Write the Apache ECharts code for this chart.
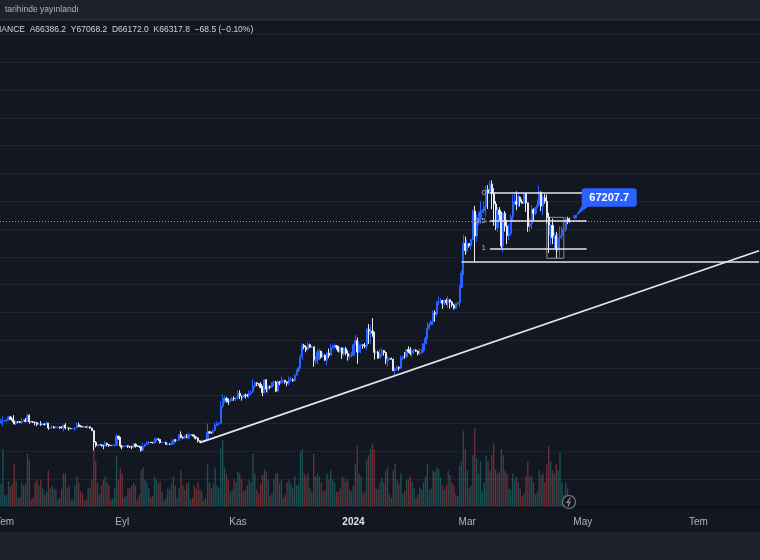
<!DOCTYPE html>
<html>
<head>
<meta charset="utf-8">
<script src="https://cdn.jsdelivr.net/npm/echarts@6/dist/echarts.min.js"></script>
<style>
  html, body { margin: 0; padding: 0; background: #131722; }
  #chart { width: 760px; height: 560px; }
</style>
</head>
<body>
<div id="chart"></div>
<script>
// daily BTCUSDT candles, 2023-06-29 .. 2024-04-24
const startDay = Date.UTC(2023, 5, 29)
const dayCount = 401 // axis runs on to early Aug 2024
const firstOpen = 30077
const lastOpen = 66386.2

const closes = [
  30446, 30472,
  // jul
  30586, 30617, 31156, 30767, 30505, 29895, 30347, 30292, 30171, 30414, 30620, 30380, 31454, 30312, 30289, 30231,
  30138, 29859, 29910, 29800, 29901, 29794, 30083, 29176, 29228, 29353, 29212, 29314, 29352, 29275, 29230,
  // aug
  29705, 29186, 29193, 29113, 29072, 29088, 29215, 29767, 29560, 29430, 29402, 29425, 29283, 29409, 29170, 28701,
  26622, 26049, 26096, 26189, 26124, 26040, 26431, 26163, 26048, 26008, 26089, 26107, 27728, 27300, 25940,
  // sep
  25805, 25869, 25972, 25826, 25792, 25759, 26255, 25910, 25901, 25841, 25162, 25840, 26222, 26522, 26600,
  26568, 26527, 26762, 27210, 27132, 26567, 26580, 26580, 26250, 26300, 26218, 26352, 27021, 26911, 26967,
  // oct
  27983, 27505, 27429, 27794, 27410, 27931, 27956, 27917, 27590, 27392, 26875, 26756, 26863, 26853, 27154, 28500,
  28395, 28320, 28713, 29670, 29909, 29992, 33087, 33900, 34500, 34150, 33892, 34081, 34525, 34475, 34640,
  // nov
  35421, 34941, 34720, 35080, 35048, 35046, 35400, 35624, 36702, 37314, 37130, 37064, 36462, 35551, 37858,
  36164, 36625, 36585, 37386, 37476, 35813, 37432, 37289, 37720, 37796, 37479, 37254, 37832, 37858, 37712,
  // dec
  38688, 39476, 39978, 41992, 44080, 43746, 43293, 44170, 43713, 43789, 41244, 41450, 42890, 43023, 41941, 42278,
  41374, 42657, 42272, 43668, 43861, 43997, 43740, 43016, 43613, 42520, 43442, 42627, 42099, 42156, 42283,
  // jan
  44180, 44946, 42845, 44151, 44162, 43974, 43929, 46951, 46110, 46632, 46314, 42782, 42847, 41732, 42511, 43137,
  42776, 41262, 41618, 41665, 41545, 39507, 39845, 40077, 39934, 41816, 42120, 42031, 43300, 42941, 42580,
  // feb
  43082, 43200, 43011, 42582, 42708, 43098, 44350, 45288, 47132, 47750, 48300, 49917, 49699, 51795, 51880,
  52125, 51662, 52123, 51780, 52259, 51839, 51304, 50731, 51571, 51733, 54476, 57037, 62432, 61130,
  // mar
  62387, 61988, 63113, 68245, 63724, 66074, 66823, 68124, 68313, 68955, 72078, 71452, 73072, 71388, 69499, 65300,
  68393, 67609, 61937, 67840, 65501, 63797, 64209, 67211, 69880, 69988, 69456, 70745, 69892, 69645, 71333,
  // apr
  69702, 65463, 65964, 68487, 67820, 68896, 69360, 71620, 69146, 70630, 70006, 67116, 63924, 65661, 63419,
  63793, 61277, 63470, 63818, 64940, 64941, 66837, 66407, 66317.8
]

const highs = [
  30841, 31282,
  30650, 30800, 31380, 31330, 30880, 31500, 30449, 30385, 30450, 31045, 30800, 30970, 31814, 31630, 30390, 30440,
  30336, 30233, 30200, 30417, 30050, 29998, 30350, 30100, 29375, 29690, 29570, 29530, 29415, 29450, 29530,
  29743, 30047, 29420, 29316, 29122, 29170, 29250, 30245, 30140, 29700, 29540, 29475, 29450, 29680, 29440, 29230,
  28775, 26833, 26260, 26288, 26260, 26139, 26800, 26550, 26300, 26100, 26200, 26230, 28142, 27760, 27575,
  26125, 25985, 26125, 26100, 25880, 26000, 26444, 26430, 25945, 26000, 25880, 26540, 26400, 26860, 26850,
  26670, 26620, 27410, 27490, 27380, 27150, 26735, 26640, 26717, 26440, 26400, 26827, 27300, 27225, 27090,
  28065, 28580, 27670, 27835, 28120, 28290, 28000, 28100, 27990, 27740, 27480, 26950, 27100, 26950, 27290, 30000,
  28600, 28500, 28900, 30200, 30350, 30230, 34000, 35198, 35000, 34800, 34500, 34480, 34770, 34850, 34720,
  35984, 35970, 35000, 35250, 35383, 35290, 35890, 35980, 37972, 37520, 37400, 37230, 37420, 36770, 37980,
  37930, 36840, 36845, 37500, 37750, 37650, 37880, 37650, 38420, 37890, 37820, 37600, 38400, 38400, 38150,
  38990, 39700, 40250, 42420, 44490, 44300, 44050, 44700, 44360, 44040, 43800, 42100, 43430, 43420, 43090, 42750,
  42420, 42760, 43490, 44280, 44230, 44390, 44030, 43950, 43800, 43650, 43680, 43790, 43150, 42600, 42900,
  44190, 45900, 45500, 44770, 44340, 44250, 44500, 47250, 47890, 47700, 48970, 46500, 43260, 43080, 43400, 43580,
  43200, 42930, 42200, 41870, 41860, 41680, 40130, 40500, 40290, 42200, 42200, 42840, 43300, 43880, 43740,
  43290, 43490, 43380, 43120, 43500, 43400, 44390, 45600, 48200, 48170, 48580, 50330, 50370, 52080, 52820,
  52570, 52200, 52350, 52480, 52950, 52370, 52040, 51550, 51700, 51950, 54900, 57588, 63933, 63650,
  63150, 62430, 63230, 68500, 69170, 67640, 67980, 69990, 68590, 69950, 72800, 72900, 73650, 73777, 72370, 70000,
  68900, 68950, 68100, 68030, 68240, 66650, 65970, 67620, 71150, 71560, 71770, 71550, 70900, 70350, 71370,
  71400, 69750, 66900, 69290, 68720, 69000, 70300, 72797, 71760, 71160, 71256, 71230, 67930, 65840, 66870,
  64360, 64500, 64125, 65450, 65450, 65700, 67230, 67200, 67068.2
]

const lows = [
  30063, 29500,
  30323, 30200, 30561, 30630, 30200, 29850, 29700, 30036, 30050, 29950, 30272, 30200, 30255, 29940, 30250, 30075,
  29658, 29500, 29755, 29570, 29715, 29640, 29730, 28861, 29056, 29080, 29100, 29123, 29260, 29030, 29100,
  28585, 28950, 29100, 28750, 28960, 28985, 28700, 29135, 29360, 29320, 29340, 29375, 29250, 29100, 29050, 28700,
  25166, 25700, 25800, 25960, 25811, 25350, 25800, 25850, 25777, 25960, 25970, 25860, 25922, 27030, 25655,
  25333, 25725, 25800, 25600, 25570, 25377, 25600, 25650, 25800, 25550, 24901, 25130, 25750, 26125, 26220,
  26470, 26400, 26380, 26670, 26850, 26380, 26480, 26500, 26130, 26010, 26100, 26080, 26340, 26680, 26880,
  26950, 27320, 27160, 27220, 27350, 27170, 27840, 27700, 27260, 27100, 26550, 26530, 26690, 26810, 26800, 27110,
  28100, 28150, 28170, 28600, 29480, 29690, 29860, 32850, 33700, 33750, 33340, 33860, 34050, 34050, 34080,
  34320, 34400, 34100, 34580, 34530, 34740, 34525, 35110, 35550, 36340, 36700, 36760, 36340, 34900, 35360,
  35600, 35510, 36180, 36400, 36700, 35630, 35750, 36870, 37250, 37600, 37150, 36710, 36880, 37600, 37500,
  37620, 38650, 39250, 39930, 41420, 43335, 42820, 43080, 43590, 43580, 40220, 40680, 40670, 41420, 41660, 41900,
  41250, 40530, 41800, 42200, 43330, 43400, 43300, 42800, 42750, 41620, 42100, 42300, 41300, 41520, 41965,
  42180, 44150, 40750, 42630, 42630, 43400, 43570, 43200, 44300, 44350, 45600, 41500, 42440, 41720, 41720, 42050,
  42190, 40680, 40280, 41430, 41500, 39430, 38555, 39480, 39500, 39820, 41390, 41620, 41800, 42680, 42280,
  41880, 42580, 42890, 42250, 42260, 42570, 42780, 44330, 45240, 46800, 47700, 47720, 48300, 49260, 51300,
  51620, 50630, 51175, 51330, 50760, 50650, 50920, 50520, 50580, 51280, 50900, 54450, 56700, 60360,
  60800, 61660, 61300, 62900, 59005, 62700, 65600, 66000, 67950, 67830, 67200, 68600, 71340, 68560, 65600, 64780,
  64500, 66560, 61560, 60770, 64530, 62260, 63000, 63790, 66380, 69280, 68370, 68900, 69050, 69580, 69570,
  68100, 64500, 64500, 65060, 66500, 67460, 68790, 69040, 68210, 67500, 69560, 66000, 60660, 62130, 62270,
  61600, 59768, 60834, 59600, 63090, 64230, 64500, 65860, 66172.0
]

// volume, thousand BTC
const volumes = [
  38, 95,
  20, 19, 42, 33, 38, 70, 42, 14, 15, 40, 35, 38, 88, 78, 12, 15, 40, 45, 35, 45, 30, 20, 25, 60, 30, 35, 30, 28, 12, 15, 30,
  55, 55, 30, 35, 12, 12, 35, 50, 40, 25, 22, 10, 12, 30, 32, 45, 98, 75, 40, 20, 35, 45, 50, 40, 35, 12, 13, 30, 85, 45, 65,
  55, 15, 18, 30, 30, 35, 40, 35, 12, 20, 60, 65, 45, 40, 30, 15, 18, 50, 45, 38, 42, 25, 10, 15, 30, 28, 38, 50, 35, 15,
  30, 60, 35, 28, 38, 40, 12, 15, 35, 30, 40, 28, 25, 10, 15, 70, 40, 30, 38, 65, 35, 30, 98, 110, 65, 55, 45, 25, 28, 45, 40,
  58, 55, 45, 25, 28, 35, 45, 40, 88, 55, 28, 22, 38, 52, 62, 58, 45, 18, 22, 45, 55, 55, 38, 45, 15, 20, 40, 45, 38, 30,
  50, 35, 38, 90, 95, 55, 50, 55, 30, 25, 88, 50, 55, 50, 40, 25, 28, 55, 45, 60, 45, 40, 25, 25, 30, 50, 48, 42, 45, 28, 25,
  35, 70, 100, 55, 50, 22, 25, 78, 85, 95, 105, 95, 30, 28, 40, 48, 40, 60, 65, 20, 15, 60, 72, 45, 38, 55, 22, 25, 45, 45, 50,
  42, 30, 15, 20, 32, 28, 40, 50, 70, 28, 30, 60, 58, 65, 62, 48, 35, 28, 35, 60, 52, 40, 35, 20, 18, 68, 75, 125, 95,
  60, 30, 35, 85, 130, 80, 55, 75, 25, 40, 85, 75, 60, 85, 105, 62, 55, 58, 95, 85, 60, 55, 30, 28, 55, 45, 50, 40, 30, 18, 22,
  50, 75, 50, 50, 40, 20, 25, 60, 52, 55, 40, 70, 100, 75, 60, 55, 70, 60, 90, 40, 20, 40, 30, 18
]

const monthLabels = { '03': 'Mar', '05': 'May', '07': 'Tem', '09': 'Eyl', '11': 'Kas' }

// drawings on the chart: [date, price]
const trendLine = [['2023-10-12', 26550], ['2024-08-02', 61100]]
const supportLine = [['2024-02-27', 59150], ['2024-08-02', 59150]]
const fibStart = '2024-03-13'
const fibEnd = '2024-05-03'
const fibLevels = [['0', 71530], ['0.5', 66530], ['1', 61530]]
const rangeBox = [['2024-04-12', 67100], ['2024-04-21', 59730]]
const callout = ['2024-04-27', 67207.7]

const dates = []
for (let i = 0; i < dayCount; i++) {
  dates.push(new Date(startDay + i * 86400000).toISOString().slice(0, 10))
}

const opens = closes.map((c, i) => (i === 0 ? firstOpen : closes[i - 1]))
opens[opens.length - 1] = lastOpen
const candles = closes.map((c, i) => [opens[i], c, lows[i], highs[i]])
const lastIdx = closes.length - 1

const volBars = volumes.map((v, i) => ({
  value: v,
  itemStyle: { color: closes[i] >= opens[i] ? 'rgba(38,166,154,0.42)' : 'rgba(239,83,80,0.42)' },
}))

const headerText = 'IANCE  A' + opens[lastIdx].toFixed(1) + '  Y' + highs[lastIdx].toFixed(1) +
  '  D' + lows[lastIdx].toFixed(1) + '  K' + closes[lastIdx].toFixed(1) + '  \u221268.5 (\u22120.10%)'

const fibLines = fibLevels.map(([name, p]) => [
  { coord: [fibStart, p], label: { show: true, formatter: name } },
  { coord: [fibEnd, p] },
])

const chart = echarts.init(document.getElementById('chart'))

chart.setOption({
  backgroundColor: '#131722',
  animation: false,
  textStyle: { fontFamily: 'Liberation Sans, Arial, sans-serif' },
  grid: [
    { left: 0, right: 0, top: 20, bottom: 53.2, outerBoundsMode: 'none', containLabel: false },
    { left: 0, right: 0, top: 406.8, bottom: 53.2, outerBoundsMode: 'none', containLabel: false },
  ],
  xAxis: [
    {
      type: 'category',
      data: dates,
      gridIndex: 0,
      boundaryGap: true,
      axisLine: { show: true, lineStyle: { color: '#0d1017', width: 2 } },
      axisTick: { show: false },
      splitLine: { show: false },
      axisLabel: {
        interval: (idx, val) => val.slice(8) === '01' && Number(val.slice(5, 7)) % 2 === 1,
        formatter: val => {
          const m = val.slice(5, 7)
          return m === '01' ? '{year|' + val.slice(0, 4) + '}' : monthLabels[m]
        },
        color: '#b2b5be',
        fontSize: 10,
        margin: 10,
        hideOverlap: false,
        rich: { year: { color: '#e0e3eb', fontWeight: 'bold', fontSize: 10 } },
      },
    },
    {
      type: 'category',
      data: dates,
      gridIndex: 1,
      show: false,
    },
  ],
  yAxis: [
    {
      type: 'value',
      gridIndex: 0,
      min: 15000,
      max: 102620,
      interval: 5000,
      axisLabel: { show: false },
      axisLine: { show: false },
      axisTick: { show: false },
      splitLine: { lineStyle: { color: '#1f2330', width: 1 } },
    },
    {
      type: 'value',
      gridIndex: 1,
      min: 0,
      max: 165,
      show: false,
      splitLine: { show: false },
    },
  ],
  series: [
    {
      type: 'candlestick',
      xAxisIndex: 0,
      yAxisIndex: 0,
      data: candles,
      barWidth: 1.7,
      z: 3,
      itemStyle: {
        color: '#2962ff',
        color0: '#ffffff',
        borderColor: '#2962ff',
        borderColor0: '#e8e9ee',
        borderWidth: 1,
      },
      markLine: {
        silent: true,
        symbol: ['none', 'none'],
        data: [
          { yAxis: closes[lastIdx], lineStyle: { color: '#9598a1', type: [1, 2], width: 1 } },
          [{ coord: trendLine[0] }, { coord: trendLine[1] }],
          [{ coord: supportLine[0] }, { coord: supportLine[1] }],
          ...fibLines,
        ],
        lineStyle: { color: '#e6e7eb', width: 1.6, type: 'solid' },
        label: {
          show: false,
          position: 'start',
          color: '#b2b5be',
          fontSize: 8,
          distance: 4,
        },
      },
      markArea: {
        silent: true,
        itemStyle: { color: 'rgba(0,0,0,0)', borderColor: '#8a8d96', borderWidth: 1 },
        data: [[{ coord: rangeBox[0] }, { coord: rangeBox[1] }]],
      },
    },
    {
      type: 'bar',
      xAxisIndex: 1,
      yAxisIndex: 1,
      data: volBars,
      barWidth: 1.3,
      z: 1,
    },
  ],
})

// callout bubble and panel chrome
const [ax, ay] = chart.convertToPixel({ seriesIndex: 0 }, callout)
chart.setOption({
  graphic: [
    { type: 'rect', z: 50, shape: { x: 0, y: 0, width: 760, height: 19.5 }, style: { fill: '#1e222d' } },
    { type: 'line', z: 51, shape: { x1: 0, y1: 19.5, x2: 760, y2: 19.5 }, style: { stroke: '#2a2e39', lineWidth: 1 } },
    {
      type: 'text', z: 52, left: 5, top: 5,
      style: { text: 'tarihinde yay\u0131nland\u0131', fill: '#b2b5be', font: '8.5px Liberation Sans, Arial, sans-serif' },
    },
    {
      type: 'text', z: 52, left: -1, top: 25,
      style: { text: headerText, fill: '#d1d4dc', font: '8.5px Liberation Sans, Arial, sans-serif' },
    },
    { type: 'rect', z: 50, shape: { x: 0, y: 533, width: 760, height: 27 }, style: { fill: '#1e222d' } },
    { type: 'line', z: 51, shape: { x1: 0, y1: 533, x2: 760, y2: 533 }, style: { stroke: '#2a2e39', lineWidth: 1 } },
    // lightning badge on the time scale
    { type: 'circle', z: 20, shape: { cx: 569, cy: 502, r: 6.5 }, style: { fill: '#131722', stroke: '#787b86', lineWidth: 1.2 } },
    {
      type: 'polyline', z: 21,
      shape: { points: [[570.5, 497.5], [567, 502.5], [570, 502], [568, 506.5]] },
      style: { stroke: '#9598a1', lineWidth: 1.1, fill: null },
    },
    // price callout
    {
      type: 'polygon', z: 30,
      shape: { points: [[ax, ay], [ax + 6.5, ay - 11], [ax + 14, ay - 11]] },
      style: { fill: '#2962ff' },
    },
    {
      type: 'rect', z: 30,
      shape: { x: ax + 6.5, y: ay - 28.5, width: 55, height: 18.5, r: 3 },
      style: { fill: '#2962ff' },
    },
    { type: 'circle', z: 31, shape: { cx: ax, cy: ay, r: 2 }, style: { fill: '#2962ff' } },
    {
      type: 'text', z: 32, x: ax + 34, y: ay - 19.2,
      style: {
        text: callout[1].toFixed(1), fill: '#ffffff', align: 'center', verticalAlign: 'middle',
        font: 'bold 11px Liberation Sans, Arial, sans-serif',
      },
    },
  ],
})
</script>
</body>
</html>
